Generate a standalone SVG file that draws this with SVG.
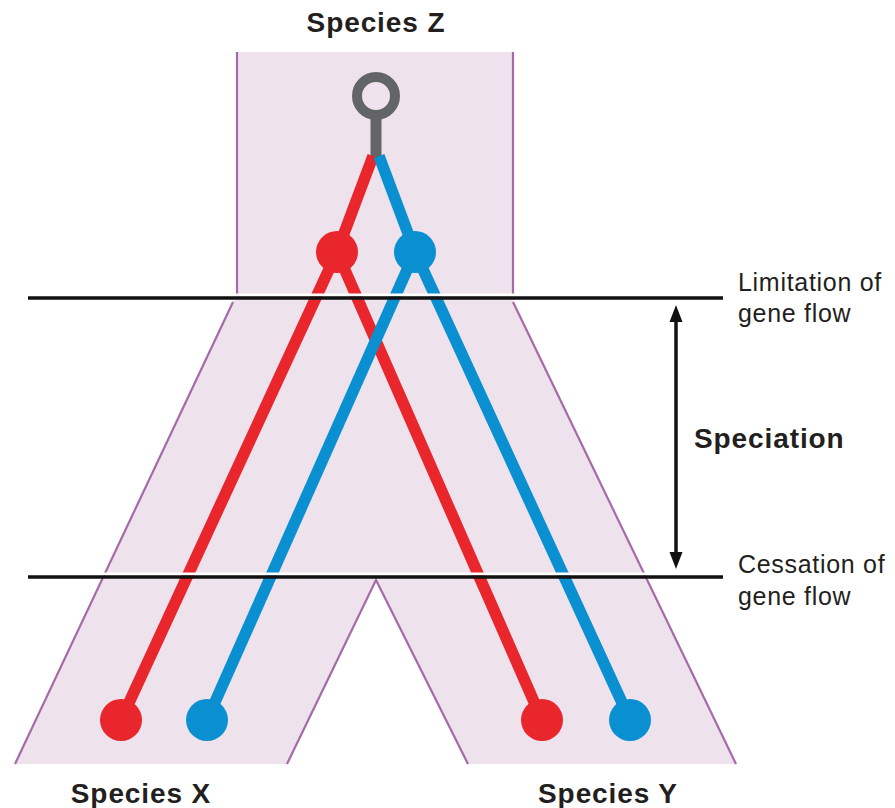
<svg xmlns="http://www.w3.org/2000/svg" width="895" height="808" viewBox="0 0 895 808">
<style>
.lbl{font-family:"Liberation Sans",Arial,sans-serif;fill:#231f20}
.b{font-weight:bold;font-size:28px;letter-spacing:0.9px}
.n{font-size:25px;letter-spacing:0.7px}
.edge{stroke:#a56ba9;stroke-width:2.2;fill:none}
.red{stroke:#e8262b;stroke-width:11.5;fill:none}
.blue{stroke:#0a8fd1;stroke-width:11.5;fill:none}
.rdot{fill:#e8262b}
.bdot{fill:#0a8fd1}
.halo{stroke:#ffffff;stroke-width:3}
.bar{stroke:#111111;stroke-width:3.5}
</style>
<rect width="895" height="808" fill="#ffffff"/>
<g id="lineage-band">
<polygon points="237,52 513,52 513,300 736,764 468,764 376,580 287,764 15,764 233,300 237,300" fill="#eee2ed"/>
<line class="edge" x1="237" y1="52" x2="237" y2="296"/>
<line class="edge" x1="513" y1="52" x2="513" y2="296"/>
<line class="edge" x1="233" y1="302" x2="15" y2="764"/>
<line class="edge" x1="513" y1="302" x2="736" y2="764"/>
<polyline class="edge" points="287,764 376,580 468,764"/>
</g>
<g id="connectors">
<line x1="376" y1="118" x2="376" y2="157" stroke="#636466" stroke-width="11"/>
<line class="red" x1="373" y1="156" x2="337" y2="252"/>
<line class="blue" x1="379" y1="156" x2="415" y2="252"/>
<line class="red" x1="337" y1="252" x2="121" y2="720"/>
<line class="red" x1="337" y1="252" x2="542" y2="720"/>
<line class="blue" x1="415" y1="252" x2="207" y2="720"/>
<line class="blue" x1="415" y1="252" x2="630" y2="720"/>
</g>
<g id="ancestor-z"><circle cx="376" cy="96" r="19" fill="none" stroke="#636466" stroke-width="10"/></g>
<g id="allele-red-z"><circle class="rdot" cx="337" cy="252" r="21"/></g>
<g id="allele-blue-z"><circle class="bdot" cx="415" cy="252" r="21"/></g>
<g id="allele-red-x"><circle class="rdot" cx="121" cy="720" r="21"/></g>
<g id="allele-blue-x"><circle class="bdot" cx="207" cy="720" r="21"/></g>
<g id="allele-red-y"><circle class="rdot" cx="542" cy="720" r="21"/></g>
<g id="allele-blue-y"><circle class="bdot" cx="630" cy="720" r="21"/></g>
<g id="limitation-line">
<line class="halo" x1="28" y1="295" x2="723" y2="295"/>
<line class="bar" x1="28" y1="298" x2="723" y2="298"/>
</g>
<g id="cessation-line">
<line class="halo" x1="28" y1="574" x2="723" y2="574"/>
<line class="bar" x1="28" y1="577" x2="723" y2="577"/>
</g>
<g id="speciation-arrow">
<line x1="676" y1="318" x2="676" y2="556" stroke="#111111" stroke-width="3.5"/>
<polygon points="676,305 682.5,322 669.5,322" fill="#111111"/>
<polygon points="676,569 682.5,552 669.5,552" fill="#111111"/>
</g>
<g id="label-z"><text class="lbl b" x="376" y="32" text-anchor="middle">Species Z</text></g>
<g id="label-x"><text class="lbl b" x="141" y="803" text-anchor="middle">Species X</text></g>
<g id="label-y"><text class="lbl b" x="608" y="803" text-anchor="middle">Species Y</text></g>
<g id="label-speciation"><text class="lbl b" x="694" y="448" letter-spacing="0.8">Speciation</text></g>
<g id="label-limitation"><text class="lbl n" x="738" y="291">Limitation of</text><text class="lbl n" x="738" y="322">gene flow</text></g>
<g id="label-cessation"><text class="lbl n" x="738" y="573">Cessation of</text><text class="lbl n" x="738" y="605">gene flow</text></g>
</svg>
